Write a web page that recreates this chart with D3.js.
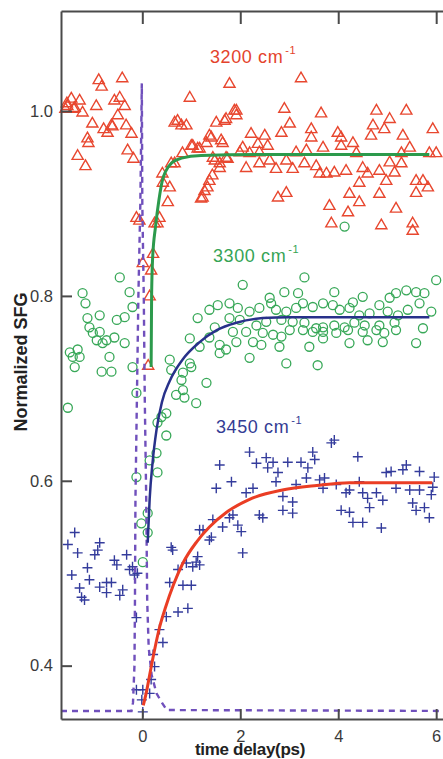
<!DOCTYPE html>
<html>
<head>
<meta charset="utf-8">
<script src="https://cdn.jsdelivr.net/npm/d3@7"></script>
<style>
  body { margin: 0; background: #fff; }
  svg { display: block; font-family: "Liberation Sans", Arial, sans-serif; }
</style>
</head>
<body>
<div id="wrapper"></div>
<script>
// data: [time delay (ps), normalized SFG]
const tri3200 = [
  [-0.89,1.034],[-0.83,1.027],[-0.41,1.036],[-1.45,1.014],[-1.28,1.012],[-1.53,1.006],[-1.38,1.004],[-1.22,0.999],
  [-0.94,1.006],[-0.57,1.012],[-0.46,1.015],[-0.36,1.006],[-0.50,0.996],[-1.02,0.987],[-0.61,0.984],[-0.79,0.981],
  [-0.71,0.977],[-0.33,0.985],[-0.22,0.976],[-1.12,0.971],[-1.10,0.966],[-0.30,0.958],[-0.18,0.949],[-1.32,0.952],
  [-1.16,0.941],[-0.12,0.885],[-0.06,0.882],[-1.54,1.009],[-1.57,1.003],[-1.40,1.003],[-0.63,0.985],
  [0.01,0.836],[0.15,0.800],[0.12,0.725],[0.22,0.846],[0.18,0.828],[0.31,0.879],[0.35,0.885],[0.25,0.879],
  [0.41,0.933],[0.56,0.918],[0.52,0.902],[0.59,0.944],[0.42,0.923],[0.66,0.944],[0.66,0.988],[0.80,0.985],
  [0.97,1.015],[0.82,0.955],[1.00,0.963],[1.13,0.960],[1.31,0.966],[1.37,0.974],[1.51,0.988],[1.68,0.990],
  [1.78,1.030],[1.88,1.001],[1.61,0.969],[1.43,0.931],[1.33,0.918],[1.23,0.907],[1.48,0.947],[1.58,0.939],
  [1.74,0.949],[2.05,0.961],[2.12,0.939],[3.24,1.036],[0.72,0.990],[0.90,0.985],[1.71,0.992],[1.92,1.001],
  [1.92,0.996],[2.90,1.003],[3.65,0.998],[4.78,1.001],[5.05,0.992],[5.39,1.001],[3.01,0.987],[2.84,0.977],
  [3.45,0.981],[3.99,0.977],[4.06,0.972],[4.30,0.966],[4.71,0.985],[4.94,0.981],[4.67,0.974],[5.32,0.974],
  [5.93,0.981],[1.41,0.972],[2.22,0.976],[2.50,0.974],[1.64,0.966],[1.03,0.963],[1.17,0.960],[2.36,0.965],
  [2.56,0.963],[3.45,0.972],[3.69,0.961],[4.06,0.963],[5.46,0.961],[1.99,0.956],[2.19,0.955],[2.39,0.956],
  [3.14,0.956],[3.35,0.958],[4.37,0.955],[5.29,0.955],[5.86,0.955],[6.00,0.955],[1.44,0.950],[1.71,0.950],
  [1.58,0.944],[2.39,0.944],[2.60,0.947],[2.73,0.938],[2.94,0.947],[3.07,0.938],[3.31,0.944],[3.55,0.941],
  [3.62,0.933],[3.76,0.933],[3.92,0.934],[4.16,0.936],[4.50,0.939],[4.60,0.933],[4.43,0.923],[4.84,0.936],
  [5.05,0.945],[5.15,0.934],[5.29,0.944],[4.98,0.925],[5.59,0.925],[5.73,0.925],[5.83,0.918],[5.59,0.912],
  [1.37,0.925],[1.27,0.914],[1.20,0.906],[2.77,0.907],[2.94,0.912],[4.23,0.911],[4.43,0.902],[4.84,0.911],
  [5.18,0.895],[3.82,0.898],[4.20,0.891],[3.86,0.879],[4.88,0.877],[5.52,0.879],[5.52,0.871]
]

const circ3300 = [
  [-0.46,0.820],[-0.26,0.804],[-1.22,0.803],[-1.16,0.792],[-0.87,0.779],[-1.12,0.776],[-0.52,0.774],[-0.36,0.777],
  [-0.20,0.788],[-1.08,0.766],[-1.01,0.760],[-0.87,0.761],[-0.93,0.752],[-0.73,0.752],[-0.57,0.755],[-0.36,0.749],
  [-0.81,0.749],[-1.48,0.739],[-1.32,0.742],[-1.42,0.734],[-1.28,0.734],[-1.38,0.723],[-0.67,0.734],[-0.83,0.718],
  [-0.63,0.718],[-0.20,0.723],[-0.12,0.695],[-1.52,0.679],[-0.12,0.604],
  [-0.02,0.554],[0.11,0.565],[0.11,0.544],[0.01,0.512],[0.15,0.622],[0.31,0.609],[0.39,0.669],[0.31,0.663],
  [0.49,0.649],[0.29,0.630],[0.49,0.673],[0.56,0.731],[0.59,0.720],[0.83,0.717],[1.00,0.723],[1.31,0.706],
  [0.83,0.698],[0.86,0.690],[1.10,0.684],[0.69,0.693],[0.80,0.709],[0.97,0.727],
  [2.05,0.812],[3.31,0.820],[6.00,0.817],[2.90,0.804],[3.18,0.803],[3.92,0.804],[4.50,0.799],[4.30,0.793],
  [5.39,0.806],[5.59,0.804],[5.76,0.803],[5.18,0.803],[5.05,0.798],[1.37,0.785],[1.54,0.790],[1.78,0.792],
  [1.95,0.787],[2.19,0.783],[2.39,0.787],[2.60,0.798],[2.63,0.792],[2.73,0.785],[2.94,0.783],[3.14,0.787],
  [3.28,0.792],[3.48,0.788],[3.69,0.792],[3.89,0.790],[4.03,0.785],[4.23,0.787],[4.43,0.779],[4.64,0.781],
  [4.84,0.790],[5.01,0.783],[5.22,0.779],[5.42,0.785],[5.66,0.792],[5.90,0.783],[1.13,0.776],[1.78,0.776],
  [1.99,0.774],[2.33,0.768],[2.53,0.772],[2.84,0.774],[3.07,0.772],[3.31,0.771],[3.55,0.765],[3.69,0.766],
  [3.92,0.768],[4.13,0.766],[4.33,0.771],[4.54,0.768],[4.84,0.768],[5.15,0.771],[1.48,0.766],[1.37,0.755],
  [1.85,0.761],[2.12,0.761],[2.46,0.760],[2.67,0.758],[2.84,0.756],[3.01,0.763],[3.28,0.763],[3.48,0.761],
  [3.69,0.761],[3.96,0.760],[4.20,0.763],[4.50,0.761],[4.78,0.763],[4.94,0.760],[5.18,0.763],[5.73,0.765],
  [0.97,0.754],[1.17,0.745],[1.58,0.747],[1.71,0.742],[1.92,0.750],[2.26,0.750],[2.43,0.747],[2.80,0.745],
  [3.41,0.745],[3.69,0.754],[4.23,0.749],[4.60,0.752],[4.91,0.750],[5.59,0.749],[1.58,0.738],[2.19,0.733],
  [2.94,0.727],[3.58,0.725],[4.13,0.875]
]

const cross3450 = [
  [-1.38,0.544],[-1.52,0.531],[-1.32,0.522],[-0.87,0.533],[-0.91,0.525],[-0.97,0.520],[-0.57,0.514],[-0.32,0.520],
  [-0.52,0.509],[-0.26,0.504],[-0.16,0.498],[-1.44,0.498],[-1.12,0.506],[-1.08,0.493],[-0.73,0.490],[-0.87,0.485],
  [-1.28,0.484],[-1.24,0.474],[-1.18,0.471],[-0.73,0.479],[-0.46,0.476],[-0.40,0.482],[-0.12,0.452],[0.01,0.374],
  [-0.01,0.363],[0.01,0.350],[-0.63,0.490],[-0.20,0.507],[-0.10,0.500],[-0.12,0.374],
  [0.15,0.370],[0.18,0.385],[0.25,0.399],[0.22,0.412],[0.42,0.425],[0.35,0.439],[0.49,0.453],[0.73,0.458],
  [0.93,0.462],[0.56,0.490],[0.83,0.487],[1.00,0.487],[0.73,0.504],[0.90,0.511],[1.03,0.507],[1.10,0.512],
  [1.17,0.509],[1.13,0.518],[0.59,0.528],[0.62,0.525],[1.37,0.536],[1.41,0.539],[1.24,0.547],[1.17,0.547],
  [1.44,0.558],[1.64,0.550],[1.78,0.560],[1.85,0.563],[1.95,0.552],[2.02,0.545],[2.05,0.522],[1.51,0.592],
  [1.82,0.599],[1.58,0.617],[2.12,0.587],[2.26,0.592],[2.39,0.563],[2.46,0.560],
  [2.19,0.631],[2.33,0.619],[2.53,0.625],[2.67,0.620],[2.97,0.620],[3.24,0.620],[3.38,0.614],[3.48,0.631],
  [4.40,0.626],[2.56,0.614],[2.77,0.609],[2.73,0.599],[3.14,0.596],[3.35,0.603],[3.62,0.601],[3.72,0.603],
  [3.69,0.592],[3.96,0.596],[4.23,0.590],[4.43,0.599],[4.98,0.609],[5.08,0.610],[5.32,0.612],[5.39,0.617],
  [5.66,0.610],[5.96,0.604],[5.18,0.592],[5.46,0.590],[5.66,0.590],[5.93,0.593],[5.90,0.585],[4.16,0.587],
  [4.50,0.587],[4.60,0.581],[4.78,0.587],[4.91,0.579],[4.64,0.571],[4.88,0.549],[4.06,0.568],[4.23,0.566],
  [4.30,0.555],[4.50,0.555],[5.52,0.576],[5.59,0.568],[5.76,0.571],[5.86,0.560],[2.87,0.583],[3.07,0.577],
  [2.87,0.568],[3.07,0.565],[3.86,0.641],[3.92,0.644],[3.52,0.623]
]

// fitted rise curves, read at a few points
const fit3200 = [[0.18,0.723],[0.19,0.80],[0.21,0.84],[0.27,0.875],[0.34,0.904],[0.41,0.925],[0.47,0.934],
  [0.60,0.944],[0.80,0.949],[1.20,0.952],[2.50,0.953],[5.86,0.953]]
const fit3300 = [[0.11,0.533],[0.15,0.58],[0.21,0.62],[0.29,0.655],[0.40,0.685],[0.56,0.708],[0.82,0.731],
  [1.17,0.750],[1.52,0.763],[1.92,0.771],[2.46,0.776],[3.00,0.777],[5.86,0.777]]
const fit3450 = [[0.02,0.357],[0.09,0.373],[0.15,0.390],[0.25,0.417],[0.35,0.441],[0.48,0.464],[0.64,0.488],
  [0.82,0.510],[1.11,0.534],[1.37,0.550],[1.72,0.566],[2.19,0.580],[2.86,0.590],[3.56,0.595],[4.23,0.598],[5.92,0.598]]

// pump/probe cross-correlation (dashed)
const pulse = [[-1.66,0.351],[-0.22,0.351],[-0.19,0.36],[-0.16,0.40],[-0.15,0.47],[-0.14,0.58],[-0.11,0.69],
  [-0.08,0.80],[-0.04,0.90],[-0.01,1.03],[0.0,0.90],[0.03,0.80],[0.05,0.69],[0.08,0.58],[0.10,0.47],[0.13,0.42],
  [0.19,0.39],[0.29,0.37],[0.40,0.36],[0.50,0.352],[6.18,0.351]]

const xTicks = [0, 2, 4, 6]
const yTicks = [0.4, 0.6, 0.8, 1.0]
const bandNames = ["3200 cm", "3300 cm", "3450 cm"]

async function drawChart() {

  // 1. Dimensions
  let dimensions = {
    width: 443,
    height: 759,
    margin: { top: 11, right: -2, bottom: 40, left: 61 },
  }
  dimensions.boundedWidth = dimensions.width - dimensions.margin.left - dimensions.margin.right
  dimensions.boundedHeight = dimensions.height - dimensions.margin.top - dimensions.margin.bottom

  // 2. Canvas
  const wrapper = d3.select("#wrapper")
    .append("svg")
      .attr("width", dimensions.width)
      .attr("height", dimensions.height)

  const bounds = wrapper.append("g")
      .attr("transform", `translate(${dimensions.margin.left},${dimensions.margin.top})`)

  // 3. Scales
  const xScale = d3.scaleLinear()
    .domain([-1.66, 6.18])
    .range([0, dimensions.boundedWidth])
  const yScale = d3.scaleLinear()
    .domain([0.3423, 1.1082])
    .range([dimensions.boundedHeight, 0])

  const xAcc = d => xScale(d[0])
  const yAcc = d => yScale(d[1])

  // 4. Data
  const tri = d3.symbol(d3.symbolTriangle, 54)()
  bounds.append("g").selectAll("path")
    .data(tri3200)
    .join("path")
      .attr("d", tri)
      .attr("transform", d => `translate(${xAcc(d)},${yAcc(d) + 0.8})`)
      .attr("fill", "none")
      .attr("stroke", "#e8472f")
      .attr("stroke-width", 1.4)

  bounds.append("g").selectAll("circle")
    .data(circ3300)
    .join("circle")
      .attr("cx", xAcc)
      .attr("cy", yAcc)
      .attr("r", 4.5)
      .attr("fill", "none")
      .attr("stroke", "#38a858")
      .attr("stroke-width", 1.3)

  bounds.append("g").selectAll("path")
    .data(cross3450)
    .join("path")
      .attr("d", d => `M${xAcc(d) - 5},${yAcc(d)}H${xAcc(d) + 5}M${xAcc(d)},${yAcc(d) - 5}V${yAcc(d) + 5}`)
      .attr("stroke", "#343c9c")
      .attr("stroke-width", 1.4)

  const line = d3.line().x(xAcc).y(yAcc)

  bounds.append("path")
      .attr("d", line(pulse))
      .attr("fill", "none")
      .attr("stroke", "#7050bc")
      .attr("stroke-width", 2.4)
      .attr("stroke-dasharray", "6,5")

  const smooth = d3.line().x(xAcc).y(yAcc).curve(d3.curveMonotoneX)
  const fits = [
    { pts: fit3200, color: "#2c9a4c", w: 3 },
    { pts: fit3300, color: "#28318a", w: 2.5 },
    { pts: fit3450, color: "#ea3d24", w: 3 },
  ]
  bounds.append("g").selectAll("path")
    .data(fits)
    .join("path")
      .attr("d", d => smooth(d.pts))
      .attr("fill", "none")
      .attr("stroke", d => d.color)
      .attr("stroke-width", d => d.w)

  // 5. Peripherals
  const yAxis = d3.axisLeft(yScale)
    .tickValues(yTicks)
    .tickSizeInner(-11)
    .tickSizeOuter(0)
    .tickPadding(8)
    .tickFormat(d3.format(".1f"))
  const xAxis = d3.axisBottom(xScale)
    .tickValues(xTicks)
    .tickSizeInner(-10)
    .tickSizeOuter(0)
    .tickPadding(11)
    .tickFormat(d3.format("d"))
  const topAxis = d3.axisTop(xScale)
    .tickValues(xTicks)
    .tickSizeInner(-13)
    .tickSizeOuter(0)
    .tickFormat("")

  const styleAxis = g => {
    g.select(".domain").attr("stroke", "#4a4a4a").attr("stroke-width", 2)
    g.selectAll(".tick line").attr("stroke", "#4a4a4a").attr("stroke-width", 2)
    g.selectAll(".tick text")
      .attr("fill", "#3a3a3a")
      .style("font-size", "16.5px")
      .style("font-family", "'Liberation Sans', Arial, sans-serif")
  }

  bounds.append("g").call(yAxis).call(styleAxis)
  bounds.append("g")
      .attr("transform", `translate(0,${dimensions.boundedHeight})`)
      .call(xAxis).call(styleAxis)
  bounds.append("g").call(topAxis).call(styleAxis)

  wrapper.append("text")
      .attr("transform", `translate(27,362) rotate(-90)`)
      .attr("text-anchor", "middle")
      .style("font-size", "18px")
      .style("font-weight", "bold")
      .attr("fill", "#222")
      .text("Normalized SFG")

  wrapper.append("text")
      .attr("x", 250)
      .attr("y", 755)
      .attr("text-anchor", "middle")
      .style("font-size", "17px")
      .style("font-weight", "bold")
      .style("letter-spacing", "-0.3px")
      .attr("fill", "#222")
      .text("time delay(ps)")

  const labels = [
    { name: bandNames[0], x: 210, y: 63, color: "#e4432c" },
    { name: bandNames[1], x: 213, y: 262, color: "#36a455" },
    { name: bandNames[2], x: 216, y: 433, color: "#343c94" },
  ]
  const lab = wrapper.append("g").selectAll("text")
    .data(labels)
    .join("text")
      .attr("x", d => d.x)
      .attr("y", d => d.y)
      .attr("fill", d => d.color)
      .style("font-size", "18px")
      .style("letter-spacing", "0.6px")
  lab.append("tspan").text(d => d.name)
  lab.append("tspan")
      .attr("dx", 2)
      .attr("dy", -9)
      .style("font-size", "11px")
      .text("-1")
}

drawChart()
</script>
</body>
</html>
